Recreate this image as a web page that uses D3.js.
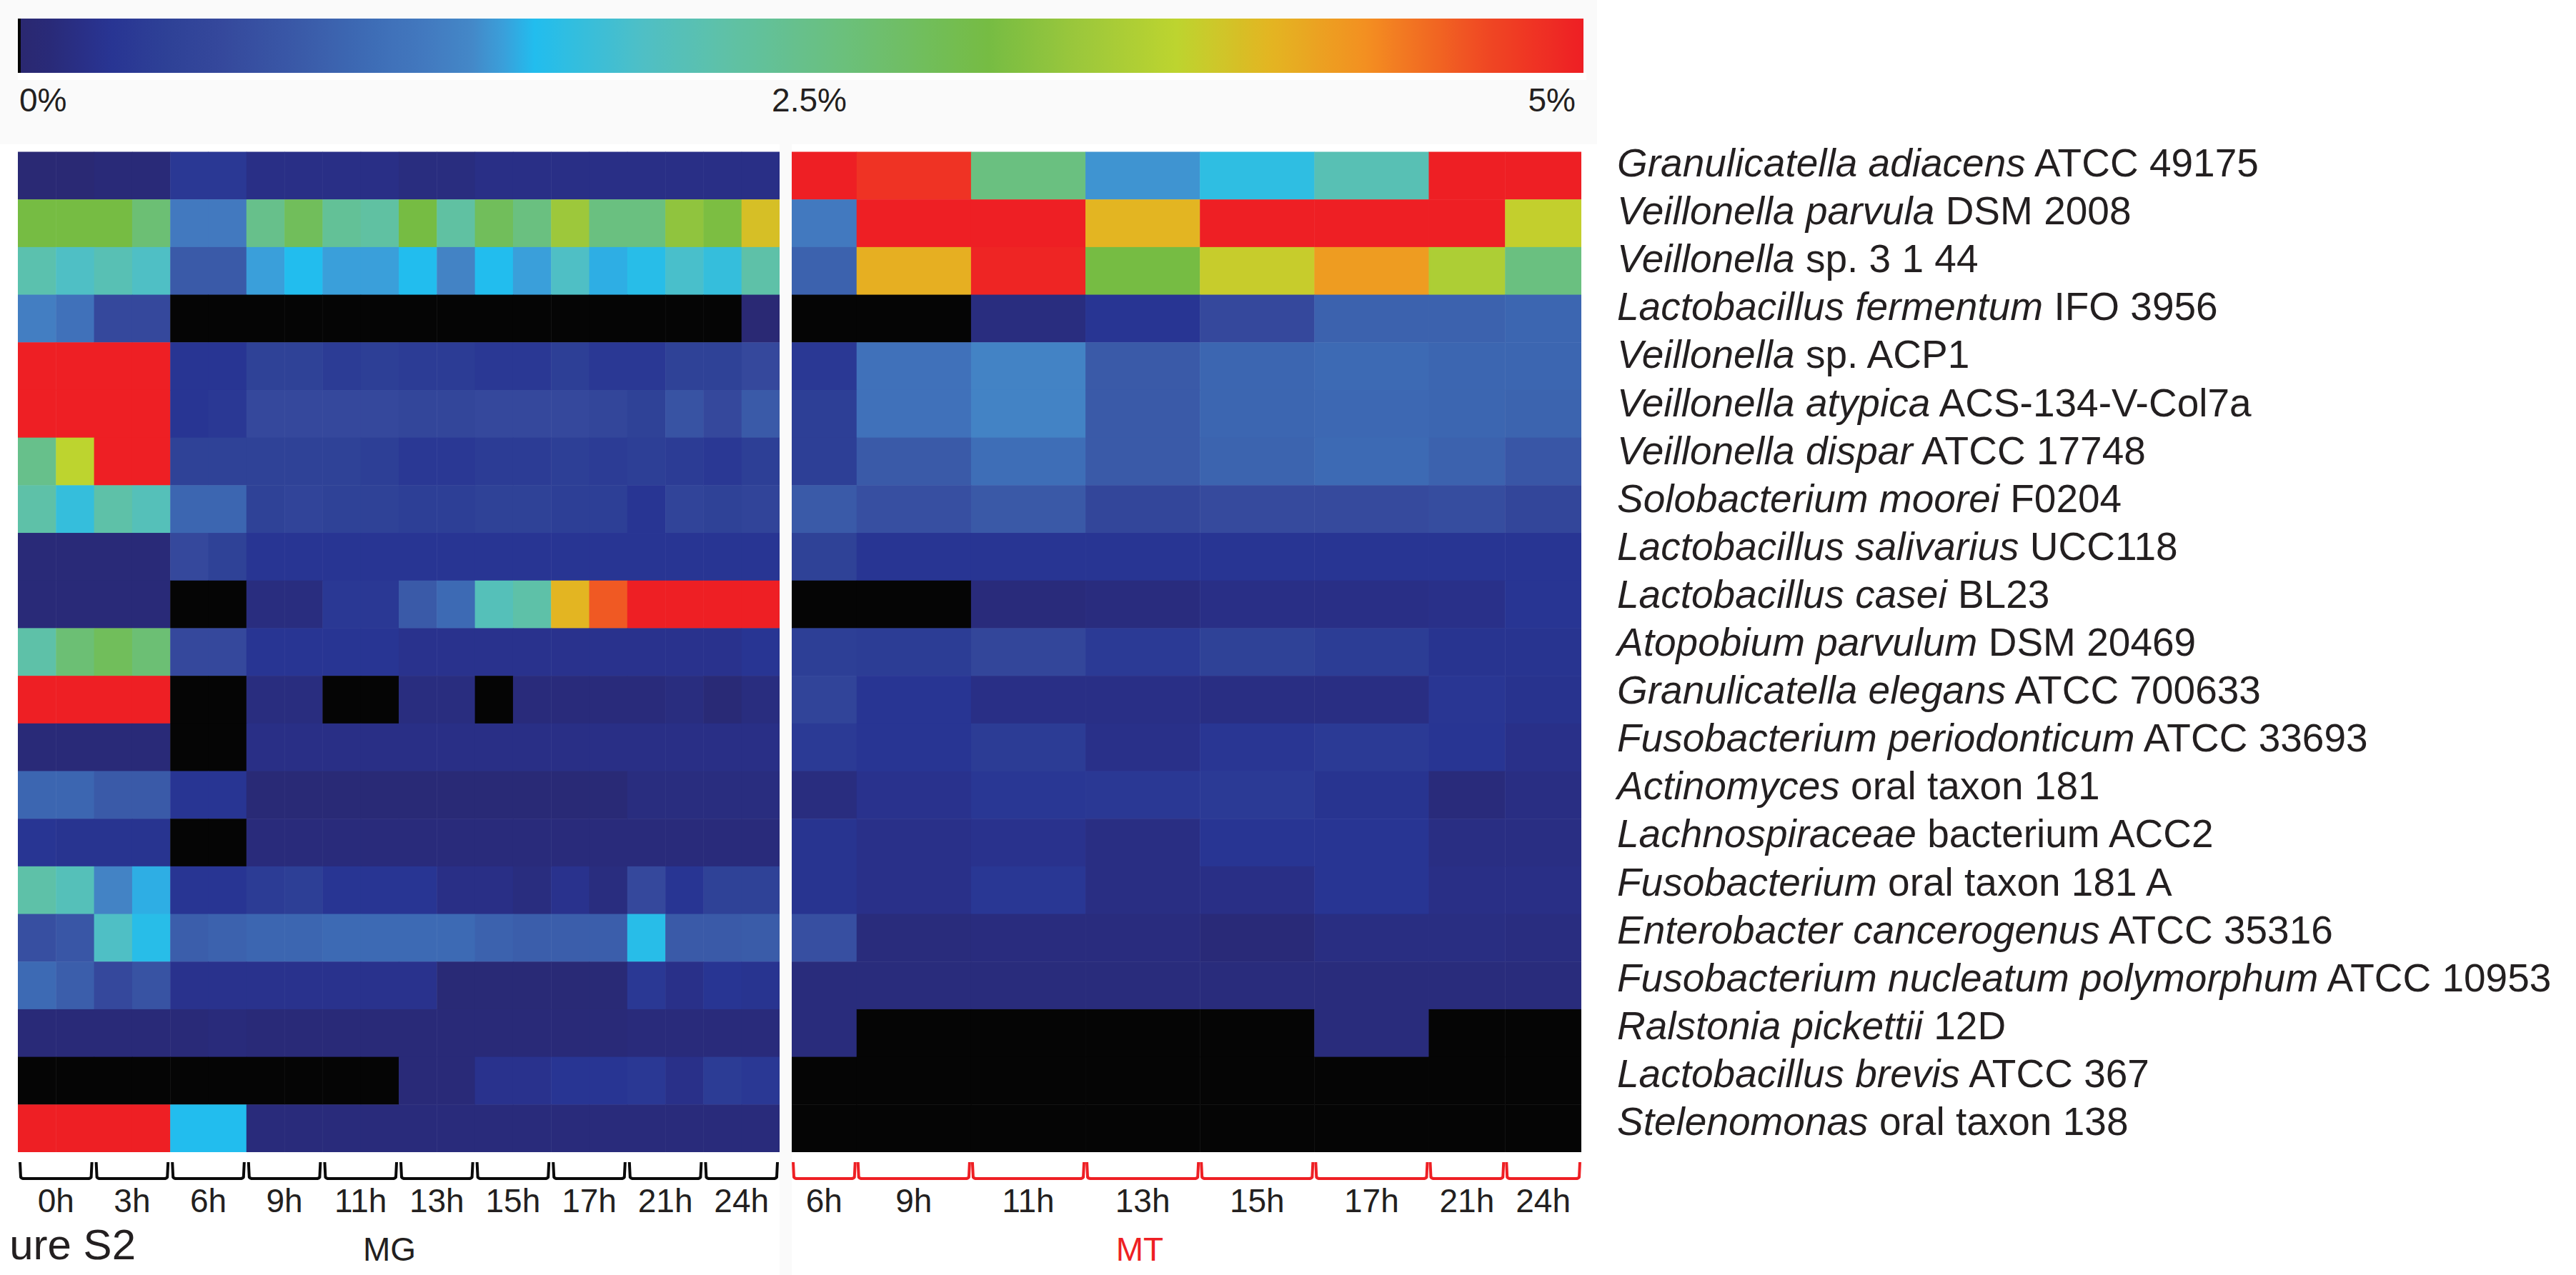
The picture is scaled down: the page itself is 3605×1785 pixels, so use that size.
<!DOCTYPE html>
<meta charset="utf-8">
<html>
<head>
<title>Figure S2 heatmap</title>
<script src="https://cdn.jsdelivr.net/npm/d3@7"></script>
<style>
  body { margin: 0; background: #ffffff; }
  svg { display: block; font-family: "Liberation Sans", Arial, Helvetica, sans-serif; }
</style>
</head>
<body>
<script>

// ---- data ----
var speciesItalic = ["Granulicatella adiacens", "Veillonella parvula", "Veillonella", "Lactobacillus fermentum",
  "Veillonella", "Veillonella atypica", "Veillonella dispar", "Solobacterium moorei", "Lactobacillus salivarius",
  "Lactobacillus casei", "Atopobium parvulum", "Granulicatella elegans", "Fusobacterium periodonticum",
  "Actinomyces", "Lachnospiraceae", "Fusobacterium", "Enterobacter cancerogenus",
  "Fusobacterium nucleatum polymorphum", "Ralstonia pickettii", "Lactobacillus brevis", "Stelenomonas"];
var speciesStrain = ["ATCC 49175", "DSM 2008", "sp. 3 1 44", "IFO 3956", "sp. ACP1", "ACS-134-V-Col7a",
  "ATCC 17748", "F0204", "UCC118", "BL23", "DSM 20469", "ATCC 700633", "ATCC 33693", "oral taxon 181",
  "bacterium ACC2", "oral taxon 181 A", "ATCC 35316", "ATCC 10953", "12D", "ATCC 367", "oral taxon 138"];

var mgTimes = ["0h", "3h", "6h", "9h", "11h", "13h", "15h", "17h", "21h", "24h"];
var mtTimes = ["6h", "9h", "11h", "13h", "15h", "17h", "21h", "24h"];
var legendTicks = ["0%", "2.5%", "5%"];

// relative abundance (%), two replicates per MG time point; null = not detected (black)
var mgValues = [
  [0.05,0.05,0.1,0.1,0.35,0.35,0.2,0.2,0.2,0.2,0.15,0.15,0.2,0.2,0.2,0.2,0.2,0.2,0.2,0.2],
  [3.1,3.1,3.1,2.7,1.3,1.3,2.5,2.9,2.4,2.3,3.1,2.3,2.9,2.6,3.4,2.6,2.6,3.3,3.15,3.9],
  [2.2,2.0,2.15,2.0,0.9,0.9,1.55,1.65,1.55,1.55,1.65,1.4,1.65,1.55,2.0,1.6,1.7,1.95,1.8,2.25],
  [1.35,1.2,0.65,0.65,null,null,null,null,null,null,null,null,null,null,null,null,null,null,null,0.05],
  [5,5,5,5,0.3,0.3,0.5,0.5,0.4,0.45,0.4,0.4,0.35,0.35,0.45,0.35,0.35,0.5,0.5,0.65],
  [5,5,5,5,0.3,0.35,0.65,0.65,0.65,0.65,0.6,0.6,0.65,0.65,0.65,0.6,0.5,0.8,0.65,0.9],
  [2.5,3.7,5,5,0.5,0.5,0.5,0.5,0.5,0.45,0.35,0.35,0.4,0.4,0.45,0.4,0.45,0.4,0.35,0.45],
  [2.25,1.8,2.25,2.1,1.05,1.05,0.5,0.55,0.5,0.5,0.45,0.45,0.5,0.5,0.45,0.45,0.3,0.55,0.5,0.55],
  [0.1,0.1,0.1,0.1,0.65,0.5,0.3,0.3,0.3,0.3,0.3,0.3,0.3,0.3,0.3,0.3,0.3,0.3,0.3,0.3],
  [0.1,0.1,0.1,0.1,null,null,0.15,0.15,0.35,0.35,0.9,1.1,2.1,2.25,4.0,4.6,5,5,5,5],
  [2.25,2.7,2.9,2.7,0.65,0.65,0.3,0.3,0.3,0.3,0.25,0.25,0.25,0.25,0.25,0.25,0.25,0.25,0.25,0.3],
  [5,5,5,5,null,null,0.15,0.15,null,null,0.15,0.15,null,0.12,0.12,0.12,0.12,0.15,0.08,0.15],
  [0.1,0.1,0.1,0.1,null,null,0.2,0.2,0.2,0.2,0.2,0.2,0.2,0.2,0.2,0.2,0.2,0.2,0.2,0.2],
  [1.05,1.05,0.9,0.9,0.3,0.3,0.08,0.08,0.08,0.08,0.08,0.08,0.08,0.08,0.08,0.08,0.15,0.15,0.15,0.15],
  [0.3,0.28,0.28,0.28,null,null,0.12,0.12,0.12,0.12,0.12,0.12,0.12,0.12,0.12,0.12,0.12,0.12,0.12,0.12],
  [2.25,2.1,1.4,1.6,0.3,0.3,0.4,0.45,0.3,0.3,0.3,0.2,0.2,0.15,0.25,0.15,0.65,0.3,0.5,0.5],
  [0.75,0.85,2.0,1.7,0.95,1.0,1.05,1.05,1.1,1.1,1.1,1.1,1.0,0.95,0.95,0.95,1.7,0.9,0.9,0.92],
  [1.1,0.95,0.65,0.8,0.25,0.25,0.25,0.25,0.25,0.25,0.25,0.08,0.08,0.08,0.08,0.08,0.35,0.22,0.3,0.28],
  [0.1,0.1,0.1,0.1,0.1,0.12,0.1,0.1,0.1,0.1,0.1,0.1,0.1,0.1,0.1,0.1,0.12,0.12,0.12,0.12],
  [null,null,null,null,null,null,null,null,null,null,0.1,0.1,0.25,0.25,0.3,0.3,0.35,0.22,0.4,0.35],
  [5,5,5,5,1.65,1.65,0.12,0.12,0.12,0.12,0.12,0.12,0.12,0.12,0.12,0.12,0.12,0.12,0.12,0.12]
];

var mtValues = [
  [5,4.85,2.6,1.5,1.75,2.15,5,5],
  [1.3,5,5,4.0,5,5,5,3.75],
  [1.0,4.05,4.95,3.1,3.78,4.2,3.55,2.6],
  [null,null,0.15,0.3,0.65,1.0,1.0,1.05],
  [0.35,1.2,1.4,0.9,1.05,1.1,1.05,1.05],
  [0.45,1.2,1.4,0.9,1.05,1.08,1.05,1.02],
  [0.45,0.9,1.15,0.9,1.02,1.1,1.0,0.85],
  [0.9,0.75,0.88,0.6,0.68,0.68,0.72,0.6],
  [0.5,0.3,0.3,0.3,0.3,0.3,0.3,0.3],
  [null,null,0.12,0.14,0.2,0.2,0.22,0.3],
  [0.45,0.42,0.6,0.38,0.5,0.42,0.28,0.28],
  [0.55,0.3,0.2,0.2,0.18,0.18,0.32,0.26],
  [0.38,0.3,0.4,0.22,0.32,0.38,0.3,0.22],
  [0.15,0.25,0.33,0.35,0.38,0.28,0.12,0.18],
  [0.28,0.22,0.25,0.18,0.3,0.3,0.18,0.18],
  [0.28,0.22,0.33,0.18,0.2,0.3,0.2,0.2],
  [0.75,0.13,0.14,0.14,0.1,0.17,0.17,0.16],
  [0.13,0.13,0.13,0.13,0.13,0.13,0.13,0.13],
  [0.13,null,null,null,null,0.13,null,null],
  [null,null,null,null,null,null,null,null],
  [null,null,null,null,null,null,null,null]
];

// ---- colour scale (percent -> colour) ----
var colorStops = [0, 0.1, 0.2, 0.3, 0.5, 0.65, 0.9, 1.1, 1.3, 1.45, 1.55, 1.65, 2.0, 2.25, 2.6, 3.1, 3.4, 3.7, 4.0, 4.3, 4.7, 5];
var colorRange = ["#2a2870", "#292a78", "#292f86", "#283593", "#2f4297", "#35489c", "#3a5aa8", "#3d6ab4",
  "#4279bf", "#4488c8", "#3a9fda", "#22bdee", "#4fbfc5", "#5ec1a8", "#6ac080", "#76bc43", "#9dc83b",
  "#bdd42f", "#e3b522", "#f39021", "#ef4623", "#ee1f24"];
var color = d3.scaleLinear().domain(colorStops).range(colorRange).clamp(true);
var missing = "#050505";
var ink = "#231f20";

// ---- layout ----
var W = 3605, H = 1785;
var heatTop = 212.5, heatBottom = 1613;
var mgLeft = 25, mgRight = 1091;
var mtLeft = 1108, mtRight = 2213;
// MT cells are drawn as pooled blocks; widths in MG-column units
var mtUnits = [1.7, 3, 3, 3, 3, 3, 2, 2];

var svg = d3.select("body").append("svg")
    .attr("width", W)
    .attr("height", H);

// backgrounds
svg.append("rect").attr("x", 0).attr("y", 0).attr("width", 2235).attr("height", 202).attr("fill", "#fafafa");
svg.append("rect").attr("x", 25).attr("y", 102).attr("width", 2195).attr("height", 10).attr("fill", "#ffffff");
svg.append("rect").attr("x", mgRight).attr("y", 202).attr("width", mtLeft - mgRight).attr("height", H - 202).attr("fill", "#fafafa");

// ---- colour bar ----
var cbar = d3.scaleLinear().domain([0, 5]).range([25, 2216]);
var grad = svg.append("defs").append("linearGradient").attr("id", "cbar")
    .attr("x1", "0%").attr("x2", "100%").attr("y1", "0%").attr("y2", "0%");
grad.selectAll("stop")
  .data(d3.range(0, 5.001, 0.05))
  .enter().append("stop")
    .attr("offset", function (d) { return (d / 5 * 100) + "%"; })
    .attr("stop-color", function (d) { return color(d); });

svg.append("rect")
    .attr("x", cbar(0)).attr("y", 26)
    .attr("width", cbar(5) - cbar(0)).attr("height", 76)
    .attr("fill", "url(#cbar)");
svg.append("rect").attr("x", cbar(0)).attr("y", 26).attr("width", 4).attr("height", 76).attr("fill", missing);

svg.selectAll(".cbar-label")
  .data(legendTicks)
  .enter().append("text")
    .attr("class", "cbar-label")
    .attr("x", function (d, i) { return i === 0 ? cbar(0) + 2 : (i === 1 ? cbar(2.5) + 12 : cbar(5) - 11); })
    .attr("y", 156)
    .attr("text-anchor", function (d, i) { return ["start", "middle", "end"][i]; })
    .attr("font-size", 46)
    .attr("fill", ink)
    .text(function (d) { return d; });

// ---- heatmap: MG ----
var y = d3.scaleBand().domain(d3.range(speciesItalic.length)).range([heatTop, heatBottom]);
var xMG = d3.scaleBand().domain(d3.range(mgTimes.length * 2)).range([mgLeft, mgRight]);

var mgCells = [];
mgValues.forEach(function (row, r) {
  row.forEach(function (v, c) { mgCells.push({ r: r, c: c, v: v }); });
});

svg.append("g").selectAll("rect")
  .data(mgCells)
  .enter().append("rect")
    .attr("x", function (d) { return xMG(d.c); })
    .attr("y", function (d) { return y(d.r); })
    .attr("width", function (d) { return xMG.bandwidth() + (d.c < 19 ? 0.5 : 0); })
    .attr("height", function (d) { return y.bandwidth() + (d.r < 20 ? 0.5 : 0); })
    .attr("fill", function (d) { return d.v === null ? missing : color(d.v); });

// ---- heatmap: MT ----
var cum = [0];
mtUnits.forEach(function (u, i) { cum.push(cum[i] + u); });
var xMT = d3.scaleLinear().domain([0, cum[cum.length - 1]]).range([mtLeft, mtRight]);

var mtCells = [];
mtValues.forEach(function (row, r) {
  row.forEach(function (v, c) { mtCells.push({ r: r, c: c, v: v }); });
});

svg.append("g").selectAll("rect")
  .data(mtCells)
  .enter().append("rect")
    .attr("x", function (d) { return xMT(cum[d.c]); })
    .attr("y", function (d) { return y(d.r); })
    .attr("width", function (d) { return xMT(cum[d.c + 1]) - xMT(cum[d.c]) + (d.c < 7 ? 0.5 : 0); })
    .attr("height", function (d) { return y.bandwidth() + (d.r < 20 ? 0.5 : 0); })
    .attr("fill", function (d) { return d.v === null ? missing : color(d.v); });

// ---- time brackets ----
var bTop = 1627, bBot = 1650;
function bracket(x0, x1) {
  return "M" + x0 + "," + bTop + "L" + (x0 + 1) + "," + (bBot - 2) + "Q" + (x0 + 2) + "," + bBot + " " + (x0 + 6) + "," + bBot +
    "L" + (x1 - 6) + "," + bBot + "Q" + (x1 - 2) + "," + bBot + " " + (x1 - 1) + "," + (bBot - 2) + "L" + x1 + "," + bTop;
}

var mgSpans = mgTimes.map(function (t, i) {
  return { t: t, x0: xMG(i * 2), x1: xMG(i * 2 + 1) + xMG.bandwidth() };
});
var mtSpans = mtTimes.map(function (t, i) {
  return { t: t, x0: xMT(cum[i]), x1: xMT(cum[i + 1]) };
});

svg.append("g").selectAll("path")
  .data(mgSpans)
  .enter().append("path")
    .attr("d", function (d) { return bracket(d.x0 + 3, d.x1 - 3); })
    .attr("fill", "none")
    .attr("stroke", "#0a0a0a")
    .attr("stroke-width", 4);

svg.append("g").selectAll("path")
  .data(mtSpans)
  .enter().append("path")
    .attr("d", function (d) { return bracket(d.x0 + 2, d.x1 - 2); })
    .attr("fill", "none")
    .attr("stroke", "#ee1f24")
    .attr("stroke-width", 4);

svg.append("g").selectAll("text")
  .data(mgSpans.concat(mtSpans))
  .enter().append("text")
    .attr("x", function (d) { return (d.x0 + d.x1) / 2; })
    .attr("y", 1697)
    .attr("text-anchor", "middle")
    .attr("font-size", 46)
    .attr("fill", ink)
    .text(function (d) { return d.t; });

// panel titles
svg.append("text").attr("x", 545).attr("y", 1765).attr("text-anchor", "middle")
    .attr("font-size", 46).attr("fill", ink).text("MG");
svg.append("text").attr("x", 1595).attr("y", 1765).attr("text-anchor", "middle")
    .attr("font-size", 46).attr("fill", "#ee1f24").text("MT");
svg.append("text").attr("x", 190).attr("y", 1763).attr("text-anchor", "end")
    .attr("font-size", 60).attr("fill", ink).text("ure S2");

// ---- species labels ----
var yLab = d3.scalePoint().domain(d3.range(speciesItalic.length)).range([247, 1589]);

var lab = svg.append("g").selectAll("text")
  .data(speciesItalic)
  .enter().append("text")
    .attr("x", 2263)
    .attr("y", function (d, i) { return yLab(i); })
    .attr("font-size", 55)
    .attr("fill", ink);

lab.append("tspan").attr("font-style", "italic").text(function (d) { return d; });
lab.append("tspan").text(function (d, i) { return " " + speciesStrain[i]; });

</script>
</body>
</html>
